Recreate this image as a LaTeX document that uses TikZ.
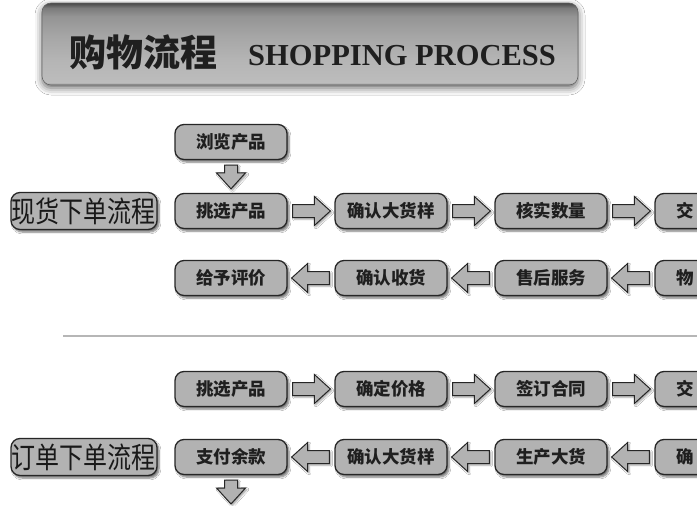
\documentclass[tikz,border=0pt]{standalone}
\usepackage{fontspec}
\setmainfont{Liberation Serif}
\newfontfamily\cjk{Noto Sans CJK SC}
\usetikzlibrary{calc,shadows,shadows.blur}
\definecolor{boxgray}{RGB}{178,178,178}
\definecolor{edgecol}{RGB}{38,38,38}
\definecolor{sepgray}{RGB}{182,182,182}
\pgfdeclareverticalshading{bannershade}{100bp}{%
  color(0bp)=(black!45);
  color(25bp)=(black!45);
  color(26.5bp)=(black!26);
  color(40bp)=(black!29);
  color(55bp)=(black!35);
  color(67bp)=(black!42);
  color(72bp)=(black!52);
  color(75bp)=(black!72);
  color(100bp)=(black!72)}
\tikzset{
  x=1pt, y=-1pt,
  flowbox/.style={draw=edgecol, line width=1.3pt, fill=boxgray, rounded corners=9pt,
    minimum width=112pt, minimum height=35pt, inner sep=0pt,
    font=\cjk\bfseries\fontsize{17.5}{17.5}\selectfont, text=black!88,
    blur shadow={shadow xshift=2pt, shadow yshift=-2.5pt, shadow blur steps=6, shadow opacity=55}},
  labelbox/.style={draw=edgecol, line width=1.3pt, fill=boxgray, rounded corners=9pt,
    minimum width=146pt, minimum height=37pt, inner sep=0pt,
    font=\cjk\fontsize{24}{24}\selectfont, text=black!90,
    blur shadow={shadow xshift=2pt, shadow yshift=-2.5pt, shadow blur steps=6, shadow opacity=55}},
  barrow/.style={draw=edgecol, line width=1pt, fill=boxgray, line join=miter,
    blur shadow={shadow xshift=1.5pt, shadow yshift=-1.5pt, shadow blur steps=4, shadow opacity=40},
    to path={let \p1=($(\tikztostart)!5pt!(\tikztotarget)$),
                 \p2=($(\tikztotarget)!4pt!(\tikztostart)$),
                 \n1={veclen(\x2-\x1,\y2-\y1)},
                 \n2={(\x2-\x1)/\n1}, \n3={(\y2-\y1)/\n1} in
      ({\x1-6.5*\n3},{\y1+6.5*\n2})
      -- ({\x2-16*\n2-6.5*\n3},{\y2-16*\n3+6.5*\n2})
      -- ({\x2-16*\n2-14.5*\n3},{\y2-16*\n3+14.5*\n2})
      -- (\x2,\y2)
      -- ({\x2-16*\n2+14.5*\n3},{\y2-16*\n3-14.5*\n2})
      -- ({\x2-16*\n2+6.5*\n3},{\y2-16*\n3-6.5*\n2})
      -- ({\x1+6.5*\n3},{\y1-6.5*\n2}) -- cycle}},
  banner/.style={draw=black!60, line width=0.6pt, rounded corners=9pt, shading=bannershade,
    minimum width=536pt, minimum height=82pt, inner sep=0pt,
    blur shadow={shadow xshift=0pt, shadow yshift=-3pt, shadow blur radius=7pt, shadow opacity=60}},
  titlecjk/.style={font=\cjk\bfseries\fontsize{37}{37}\selectfont, text=black!88, inner sep=0pt},
  titlelat/.style={font=\bfseries\fontsize{30.5}{30.5}\selectfont, text=black!88, inner sep=0pt}
}
\begin{document}
\begin{tikzpicture}
\useasboundingbox (0,0) rectangle (697,506);
\clip (0,0) rectangle (697,506);
\fill[white] (0,0) rectangle (697,506);

% title banner
\node[banner] (ban) at (310,44) {};
\node[titlecjk, anchor=base west] (tcn) at (69,66) {购物流程};
\node[titlelat, anchor=base west] (ten) at (248,65) {SHOPPING PROCESS};

% separator
\draw[sepgray, line width=2.5pt] (63,336) -- (697,336);

% left labels
\node[labelbox] (lab1) at (84,211) {\scalebox{1}[1.22]{现货下单流程}};
\node[labelbox] (lab2) at (84,457) {\scalebox{1}[1.22]{订单下单流程}};

% row 0
\node[flowbox] (browse) at (231,142) {浏览产品};
% row 1
\node[flowbox] (pick1) at (231,211) {挑选产品};
\node[flowbox] (conf1) at (391,211) {确认大货样};
\node[flowbox] (check) at (551,211) {核实数量};
\node[flowbox] (deal1) at (711,211) {交\phantom{付定金}};
% row 2
\node[flowbox] (rate) at (231,278) {给予评价};
\node[flowbox] (recv) at (391,278) {确认收货};
\node[flowbox] (after) at (551,278) {售后服务};
\node[flowbox] (logi) at (711,278) {物\phantom{流配送}};
% row 3
\node[flowbox] (pick2) at (231,389) {挑选产品};
\node[flowbox] (price) at (391,389) {确定价格};
\node[flowbox] (sign) at (551,389) {签订合同};
\node[flowbox] (deal2) at (711,389) {交\phantom{付定金}};
% row 4
\node[flowbox] (pay) at (231,457) {支付余款};
\node[flowbox] (conf2) at (391,457) {确认大货样};
\node[flowbox] (prod) at (551,457) {生产大货};
\node[flowbox] (conf3) at (711,457) {确\phantom{认定金}};
\coordinate (endpt) at (231,508);

% arrows
\draw[barrow] (browse.south) to (pick1.north);
\draw[barrow] (pick1.east) to (conf1.west);
\draw[barrow] (conf1.east) to (check.west);
\draw[barrow] (check.east) to (deal1.west);
\draw[barrow] (logi.west) to (after.east);
\draw[barrow] (after.west) to (recv.east);
\draw[barrow] (recv.west) to (rate.east);
\draw[barrow] (pick2.east) to (price.west);
\draw[barrow] (price.east) to (sign.west);
\draw[barrow] (sign.east) to (deal2.west);
\draw[barrow] (conf3.west) to (prod.east);
\draw[barrow] (prod.west) to (conf2.east);
\draw[barrow] (conf2.west) to (pay.east);
\draw[barrow] (pay.south) to (endpt);
\end{tikzpicture}
\end{document}
